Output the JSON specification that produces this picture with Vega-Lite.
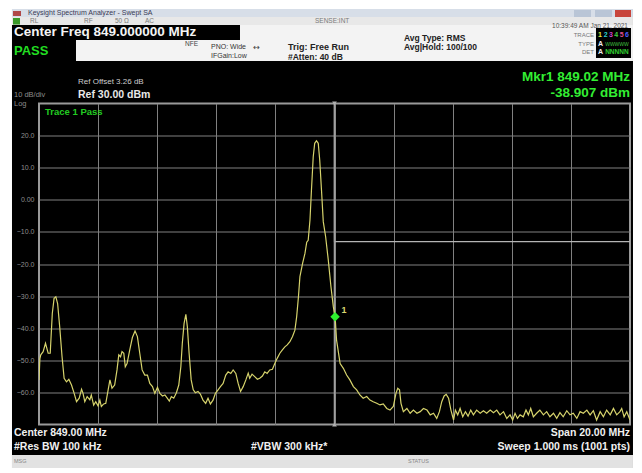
{
  "$schema": "https://vega.github.io/schema/vega-lite/v6.json",
  "width": 591,
  "height": 321,
  "autosize": {"type": "none"},
  "padding": {"left": 39, "top": 103.5, "right": 12, "bottom": 48.5},
  "background": "black",
  "config": {
    "view": {"fill": "black", "stroke": "#9a9a9a", "strokeWidth": 2},
    "font": "Liberation Sans",
    "text": {"font": "Liberation Sans"},
    "axis": {"labelOverlap": false}
  },
  "datasets": {
    "trace": [
      {"f": 839.0, "dB": -56.1}, {"f": 839.03, "dB": -49.5}, {"f": 839.06, "dB": -48.3}, {"f": 839.14, "dB": -47.3},
      {"f": 839.22, "dB": -44.7}, {"f": 839.31, "dB": -47.8}, {"f": 839.38, "dB": -47.8}, {"f": 839.45, "dB": -35.4},
      {"f": 839.51, "dB": -30.7}, {"f": 839.57, "dB": -30.2}, {"f": 839.63, "dB": -32.3}, {"f": 839.70, "dB": -39.5},
      {"f": 839.78, "dB": -48.9}, {"f": 839.85, "dB": -55.6}, {"f": 839.93, "dB": -56.7}, {"f": 840.01, "dB": -55.9},
      {"f": 840.10, "dB": -57.7}, {"f": 840.19, "dB": -60.3}, {"f": 840.27, "dB": -62.9}, {"f": 840.36, "dB": -61.8},
      {"f": 840.44, "dB": -59.0}, {"f": 840.49, "dB": -60.3}, {"f": 840.55, "dB": -62.9}, {"f": 840.63, "dB": -61.3},
      {"f": 840.72, "dB": -62.3}, {"f": 840.77, "dB": -60.8}, {"f": 840.85, "dB": -64.0}, {"f": 840.92, "dB": -62.9},
      {"f": 841.00, "dB": -64.2}, {"f": 841.06, "dB": -62.4}, {"f": 841.11, "dB": -64.4}, {"f": 841.19, "dB": -63.6},
      {"f": 841.26, "dB": -63.4}, {"f": 841.34, "dB": -59.2}, {"f": 841.40, "dB": -56.1}, {"f": 841.47, "dB": -58.7},
      {"f": 841.56, "dB": -57.7}, {"f": 841.64, "dB": -53.0}, {"f": 841.70, "dB": -48.3}, {"f": 841.76, "dB": -48.9},
      {"f": 841.81, "dB": -47.3}, {"f": 841.87, "dB": -47.8}, {"f": 841.92, "dB": -52.0}, {"f": 841.98, "dB": -51.0},
      {"f": 842.07, "dB": -46.8}, {"f": 842.16, "dB": -42.9}, {"f": 842.25, "dB": -40.9}, {"f": 842.33, "dB": -42.6},
      {"f": 842.41, "dB": -47.8}, {"f": 842.49, "dB": -53.0}, {"f": 842.58, "dB": -54.6}, {"f": 842.67, "dB": -54.6},
      {"f": 842.75, "dB": -57.2}, {"f": 842.84, "dB": -58.2}, {"f": 842.92, "dB": -60.3}, {"f": 843.01, "dB": -58.4},
      {"f": 843.09, "dB": -60.3}, {"f": 843.18, "dB": -61.1}, {"f": 843.26, "dB": -60.8}, {"f": 843.34, "dB": -61.8},
      {"f": 843.41, "dB": -62.7}, {"f": 843.48, "dB": -61.3}, {"f": 843.56, "dB": -61.8}, {"f": 843.65, "dB": -60.1},
      {"f": 843.73, "dB": -57.7}, {"f": 843.80, "dB": -52.0}, {"f": 843.85, "dB": -44.7}, {"f": 843.91, "dB": -38.5},
      {"f": 843.97, "dB": -35.7}, {"f": 844.02, "dB": -39.5}, {"f": 844.08, "dB": -47.8}, {"f": 844.15, "dB": -56.1},
      {"f": 844.22, "dB": -59.2}, {"f": 844.29, "dB": -60.1}, {"f": 844.38, "dB": -59.7}, {"f": 844.46, "dB": -60.5},
      {"f": 844.55, "dB": -62.4}, {"f": 844.64, "dB": -63.4}, {"f": 844.72, "dB": -61.8}, {"f": 844.80, "dB": -63.6},
      {"f": 844.89, "dB": -62.4}, {"f": 844.97, "dB": -60.3}, {"f": 845.06, "dB": -59.2}, {"f": 845.14, "dB": -58.2},
      {"f": 845.23, "dB": -57.2}, {"f": 845.32, "dB": -54.6}, {"f": 845.40, "dB": -53.6}, {"f": 845.49, "dB": -54.1},
      {"f": 845.57, "dB": -53.0}, {"f": 845.66, "dB": -54.1}, {"f": 845.74, "dB": -57.2}, {"f": 845.82, "dB": -59.7},
      {"f": 845.91, "dB": -58.2}, {"f": 846.00, "dB": -56.1}, {"f": 846.08, "dB": -54.0}, {"f": 846.13, "dB": -55.6},
      {"f": 846.21, "dB": -54.3}, {"f": 846.30, "dB": -55.1}, {"f": 846.39, "dB": -55.9}, {"f": 846.47, "dB": -55.6},
      {"f": 846.56, "dB": -54.9}, {"f": 846.64, "dB": -53.6}, {"f": 846.72, "dB": -54.1}, {"f": 846.81, "dB": -53.0},
      {"f": 846.90, "dB": -52.8}, {"f": 846.98, "dB": -51.0}, {"f": 847.06, "dB": -49.4}, {"f": 847.15, "dB": -47.8},
      {"f": 847.23, "dB": -46.8}, {"f": 847.32, "dB": -45.8}, {"f": 847.40, "dB": -45.2}, {"f": 847.49, "dB": -44.2},
      {"f": 847.58, "dB": -42.6}, {"f": 847.66, "dB": -40.6}, {"f": 847.72, "dB": -36.4}, {"f": 847.78, "dB": -30.2},
      {"f": 847.83, "dB": -23.9}, {"f": 847.92, "dB": -19.8}, {"f": 848.00, "dB": -16.7}, {"f": 848.06, "dB": -13.2},
      {"f": 848.11, "dB": -12.6}, {"f": 848.17, "dB": -6.3}, {"f": 848.22, "dB": 3.0}, {"f": 848.28, "dB": 13.4},
      {"f": 848.33, "dB": 17.6}, {"f": 848.39, "dB": 18.4}, {"f": 848.45, "dB": 17.6}, {"f": 848.50, "dB": 12.4},
      {"f": 848.56, "dB": 3.0}, {"f": 848.62, "dB": -6.8}, {"f": 848.70, "dB": -11.5}, {"f": 848.79, "dB": -18.8},
      {"f": 848.88, "dB": -27.1}, {"f": 848.96, "dB": -33.3}, {"f": 849.02, "dB": -36.4}, {"f": 849.07, "dB": -43.7},
      {"f": 849.19, "dB": -51.0}, {"f": 849.30, "dB": -52.5}, {"f": 849.41, "dB": -54.6}, {"f": 849.52, "dB": -56.1},
      {"f": 849.64, "dB": -58.2}, {"f": 849.75, "dB": -59.2}, {"f": 849.86, "dB": -60.8}, {"f": 849.97, "dB": -61.8},
      {"f": 850.09, "dB": -61.3}, {"f": 850.20, "dB": -62.4}, {"f": 850.31, "dB": -62.9}, {"f": 850.43, "dB": -63.4},
      {"f": 850.54, "dB": -63.9}, {"f": 850.65, "dB": -63.6}, {"f": 850.77, "dB": -65.0}, {"f": 850.88, "dB": -65.5},
      {"f": 850.99, "dB": -64.4}, {"f": 851.08, "dB": -60.3}, {"f": 851.14, "dB": -58.7}, {"f": 851.20, "dB": -59.2},
      {"f": 851.25, "dB": -63.4}, {"f": 851.33, "dB": -66.0}, {"f": 851.45, "dB": -65.0}, {"f": 851.56, "dB": -66.5},
      {"f": 851.67, "dB": -65.5}, {"f": 851.79, "dB": -66.5}, {"f": 851.90, "dB": -66.0}, {"f": 852.01, "dB": -65.0},
      {"f": 852.13, "dB": -65.5}, {"f": 852.24, "dB": -67.0}, {"f": 852.35, "dB": -66.5}, {"f": 852.46, "dB": -68.1},
      {"f": 852.55, "dB": -66.0}, {"f": 852.63, "dB": -62.9}, {"f": 852.71, "dB": -61.1}, {"f": 852.78, "dB": -60.6},
      {"f": 852.86, "dB": -61.8}, {"f": 852.94, "dB": -65.5}, {"f": 853.03, "dB": -68.6}, {"f": 853.09, "dB": -65.5},
      {"f": 853.17, "dB": -67.0}, {"f": 853.25, "dB": -65.0}, {"f": 853.34, "dB": -67.6}, {"f": 853.43, "dB": -66.0},
      {"f": 853.52, "dB": -67.4}, {"f": 853.61, "dB": -65.5}, {"f": 853.70, "dB": -67.0}, {"f": 853.81, "dB": -65.5},
      {"f": 853.93, "dB": -66.5}, {"f": 854.04, "dB": -65.7}, {"f": 854.15, "dB": -66.5}, {"f": 854.27, "dB": -65.5},
      {"f": 854.38, "dB": -66.3}, {"f": 854.49, "dB": -65.5}, {"f": 854.60, "dB": -67.0}, {"f": 854.72, "dB": -66.0},
      {"f": 854.83, "dB": -68.1}, {"f": 854.94, "dB": -67.0}, {"f": 855.03, "dB": -68.6}, {"f": 855.11, "dB": -66.5},
      {"f": 855.19, "dB": -68.1}, {"f": 855.28, "dB": -67.0}, {"f": 855.39, "dB": -67.6}, {"f": 855.48, "dB": -65.5},
      {"f": 855.56, "dB": -67.0}, {"f": 855.64, "dB": -65.0}, {"f": 855.73, "dB": -67.6}, {"f": 855.84, "dB": -66.5},
      {"f": 855.95, "dB": -65.5}, {"f": 856.07, "dB": -67.0}, {"f": 856.18, "dB": -66.0}, {"f": 856.29, "dB": -67.6},
      {"f": 856.41, "dB": -66.5}, {"f": 856.52, "dB": -68.1}, {"f": 856.63, "dB": -66.3}, {"f": 856.74, "dB": -67.6},
      {"f": 856.86, "dB": -65.7}, {"f": 856.97, "dB": -67.0}, {"f": 857.08, "dB": -66.5}, {"f": 857.20, "dB": -68.1},
      {"f": 857.31, "dB": -66.0}, {"f": 857.42, "dB": -66.5}, {"f": 857.54, "dB": -65.5}, {"f": 857.65, "dB": -67.0},
      {"f": 857.76, "dB": -65.7}, {"f": 857.87, "dB": -68.6}, {"f": 857.99, "dB": -66.0}, {"f": 858.10, "dB": -67.6},
      {"f": 858.21, "dB": -65.5}, {"f": 858.33, "dB": -67.0}, {"f": 858.44, "dB": -65.0}, {"f": 858.55, "dB": -67.0},
      {"f": 858.66, "dB": -66.0}, {"f": 858.72, "dB": -65.0}, {"f": 858.80, "dB": -67.6}, {"f": 858.89, "dB": -66.0},
      {"f": 859.0, "dB": -68.6}
    ],
    "marker": [{"f": 849.02, "dB": -36.4, "label": "1"}],
    "limit": [{"f": 849, "dB": 30}, {"f": 849, "dB": -13.05}, {"f": 859, "dB": -13.05}],
    "center": [{"f": 849, "dB": 30, "end": "top"}, {"f": 849, "dB": -70, "end": "bottom"}]
  },
  "data": {"values": [{}]},
  "layer": [
    {
      "data": {"name": "limit"},
      "mark": {"type": "line", "color": "#b4b4b4", "strokeWidth": 1.3},
      "encoding": {
        "x": {"field": "f", "type": "quantitative", "scale": {"domain": [839, 859], "nice": false, "zero": false},
              "axis": {"title": null, "values": [841, 843, 845, 847, 849, 851, 853, 855, 857], "labels": false, "ticks": false, "domain": false, "grid": true, "gridColor": "#808080", "gridWidth": 1}},
        "y": {"field": "dB", "type": "quantitative", "scale": {"domain": [-70, 30], "nice": false, "zero": false},
              "axis": {"title": null, "values": [-60, -50, -40, -30, -20, -10, 0, 10, 20], "ticks": false, "domain": false, "grid": true, "gridColor": "#808080", "gridWidth": 1,
                       "labelOverlap": false, "labelSeparation": 0,
                       "labelExpr": "datum.value == 0 ? '0.00' : format(datum.value, '.1f')",
                       "labelColor": "#8e8e8e", "labelFontSize": 7, "labelPadding": 5, "labelFont": "Liberation Sans"}}
      }
    },
    {"data": {"name": "center"}, "mark": {"type": "rule", "color": "#a0a0a0", "strokeWidth": 1.3}, "encoding": {"x": {"field": "f", "type": "quantitative"}}},
    {"data": {"name": "center"}, "mark": {"type": "point", "filled": true, "color": "#b0b0b0", "size": 22, "opacity": 1}, "encoding": {"x": {"field": "f", "type": "quantitative"}, "y": {"field": "dB", "type": "quantitative"}, "shape": {"field": "end", "type": "nominal", "scale": {"domain": ["top", "bottom"], "range": ["triangle-down", "triangle-up"]}, "legend": null}}},
    {"data": {"name": "trace"}, "mark": {"type": "line", "color": "#d6d36c", "strokeWidth": 1.2, "clip": true}, "encoding": {"x": {"field": "f", "type": "quantitative"}, "y": {"field": "dB", "type": "quantitative"}}},
    {"data": {"name": "marker"}, "mark": {"type": "point", "shape": "diamond", "filled": true, "color": "#2ef02e", "size": 90, "opacity": 1}, "encoding": {"x": {"field": "f", "type": "quantitative"}, "y": {"field": "dB", "type": "quantitative"}}},
    {"data": {"name": "marker"}, "mark": {"type": "text", "color": "#d8d870", "fontSize": 9, "fontWeight": "bold", "dx": 9, "dy": -7, "align": "center", "baseline": "middle"}, "encoding": {"x": {"field": "f", "type": "quantitative"}, "y": {"field": "dB", "type": "quantitative"}, "text": {"field": "label"}}},

    {"mark": {"type": "rect", "color": "white"}, "encoding": {"x": {"datum": 837.68}, "x2": {"datum": 859.406}, "y": {"datum": 62.24}, "y2": {"datum": 59.44}}},
    {"mark": {"type": "rect", "color": "white"}, "encoding": {"x": {"datum": 837.68}, "x2": {"datum": 838.086}, "y": {"datum": 62.24}, "y2": {"datum": -85.11}}},
    {"mark": {"type": "rect", "color": "white"}, "encoding": {"x": {"datum": 859.101}, "x2": {"datum": 859.406}, "y": {"datum": 62.24}, "y2": {"datum": -85.11}}},
    {"mark": {"type": "rect", "color": "white"}, "encoding": {"x": {"datum": 837.68}, "x2": {"datum": 859.406}, "y": {"datum": -83.55}, "y2": {"datum": -85.11}}},
    {"mark": {"type": "rect", "color": "#d7dee8"}, "encoding": {"x": {"datum": 838.086}, "x2": {"datum": 859.101}, "y": {"datum": 59.44}, "y2": {"datum": 56.95}}},
    {"mark": {"type": "rect", "color": "#e8e8e8"}, "encoding": {"x": {"datum": 838.086}, "x2": {"datum": 859.101}, "y": {"datum": 56.95}, "y2": {"datum": 54.45}}},
    {"mark": {"type": "rect", "color": "#f3f3f3"}, "encoding": {"x": {"datum": 838.086}, "x2": {"datum": 859.101}, "y": {"datum": 54.45}, "y2": {"datum": 43.24}}},
    {"mark": {"type": "rect", "color": "black"}, "encoding": {"x": {"datum": 838.086}, "x2": {"datum": 845.802}, "y": {"datum": 54.45}, "y2": {"datum": 49.78}}},
    {"mark": {"type": "rect", "color": "black"}, "encoding": {"x": {"datum": 838.086}, "x2": {"datum": 840.252}, "y": {"datum": 49.78}, "y2": {"datum": 43.24}}},
    {"mark": {"type": "rect", "color": "black"}, "encoding": {"x": {"datum": 857.849}, "x2": {"datum": 859.034}, "y": {"datum": 53.52}, "y2": {"datum": 44.17}}},
    {"mark": {"type": "rect", "color": "#e2e2e2"}, "encoding": {"x": {"datum": 838.086}, "x2": {"datum": 859.101}, "y": {"datum": -79.5}, "y2": {"datum": -83.55}}},
    {"mark": {"type": "rect", "color": "#b9c5d6"}, "encoding": {"x": {"datum": 857.105}, "x2": {"datum": 857.68}, "y": {"datum": 59.13}, "y2": {"datum": 56.95}}},
    {"mark": {"type": "rect", "color": "#b9c5d6"}, "encoding": {"x": {"datum": 857.815}, "x2": {"datum": 858.391}, "y": {"datum": 59.13}, "y2": {"datum": 56.95}}},
    {"mark": {"type": "rect", "color": "#c8463c"}, "encoding": {"x": {"datum": 858.492}, "x2": {"datum": 859.034}, "y": {"datum": 59.13}, "y2": {"datum": 56.95}}},
    {"mark": {"type": "rect", "color": "#b04848"}, "encoding": {"x": {"datum": 838.12}, "x2": {"datum": 838.391}, "y": {"datum": 58.82}, "y2": {"datum": 57.26}}},
    {"mark": {"type": "rect", "color": "#3a9a2a"}, "encoding": {"x": {"datum": 838.12}, "x2": {"datum": 838.357}, "y": {"datum": 56.64}, "y2": {"datum": 54.6}}},

    {"mark": {"type": "text", "text": "Keysight Spectrum Analyzer - Swept SA", "align": "left", "baseline": "middle", "fontSize": 7, "color": "#3a3a55"}, "encoding": {"x": {"datum": 838.628}, "y": {"datum": 58.19}}},
    {"mark": {"type": "text", "text": "RL", "align": "left", "baseline": "middle", "fontSize": 6.5, "color": "#7a7a7a"}, "encoding": {"x": {"datum": 838.695}, "y": {"datum": 55.7}}},
    {"mark": {"type": "text", "text": "RF", "align": "left", "baseline": "middle", "fontSize": 6.5, "color": "#7a7a7a"}, "encoding": {"x": {"datum": 840.523}, "y": {"datum": 55.7}}},
    {"mark": {"type": "text", "text": "50 Ω", "align": "left", "baseline": "middle", "fontSize": 6.5, "color": "#7a7a7a"}, "encoding": {"x": {"datum": 841.572}, "y": {"datum": 55.7}}},
    {"mark": {"type": "text", "text": "AC", "align": "left", "baseline": "middle", "fontSize": 6.5, "color": "#7a7a7a"}, "encoding": {"x": {"datum": 842.587}, "y": {"datum": 55.7}}},
    {"mark": {"type": "text", "text": "SENSE:INT", "align": "left", "baseline": "middle", "fontSize": 6.5, "color": "#7a7a7a"}, "encoding": {"x": {"datum": 848.34}, "y": {"datum": 55.7}}},
    {"mark": {"type": "text", "text": "10:39:49 AM Jan 21, 2021", "align": "right", "baseline": "middle", "fontSize": 6.5, "color": "#555555"}, "encoding": {"x": {"datum": 858.932}, "y": {"datum": 54.14}}},
    {"mark": {"type": "text", "text": "Center Freq 849.000000 MHz", "align": "left", "baseline": "middle", "fontSize": 13.5, "fontWeight": "bold", "color": "#f4f4f4"}, "encoding": {"x": {"datum": 838.154}, "y": {"datum": 52.27}}},
    {"mark": {"type": "text", "text": "PASS", "align": "left", "baseline": "middle", "fontSize": 13, "fontWeight": "bold", "color": "#22dd22"}, "encoding": {"x": {"datum": 838.154}, "y": {"datum": 46.36}}},
    {"mark": {"type": "text", "text": "NFE", "align": "left", "baseline": "middle", "fontSize": 6.5, "color": "#444444"}, "encoding": {"x": {"datum": 843.941}, "y": {"datum": 48.54}}},
    {"mark": {"type": "text", "text": "PNO: Wide", "align": "left", "baseline": "middle", "fontSize": 7, "color": "#333333"}, "encoding": {"x": {"datum": 844.821}, "y": {"datum": 47.6}}},
    {"mark": {"type": "text", "text": "IFGain:Low", "align": "left", "baseline": "middle", "fontSize": 7, "color": "#333333"}, "encoding": {"x": {"datum": 844.821}, "y": {"datum": 44.8}}},
    {"mark": {"type": "text", "text": "↔", "align": "left", "baseline": "middle", "fontSize": 8, "font": "DejaVu Sans", "color": "#444444"}, "encoding": {"x": {"datum": 846.25}, "y": {"datum": 47.3}}},
    {"mark": {"type": "text", "text": "Trig: Free Run", "align": "left", "baseline": "middle", "fontSize": 9, "fontWeight": "bold", "color": "#222222"}, "encoding": {"x": {"datum": 847.426}, "y": {"datum": 47.6}}},
    {"mark": {"type": "text", "text": "#Atten: 40 dB", "align": "left", "baseline": "middle", "fontSize": 8.5, "fontWeight": "bold", "color": "#222222"}, "encoding": {"x": {"datum": 847.426}, "y": {"datum": 44.49}}},
    {"mark": {"type": "text", "text": "Avg Type: RMS", "align": "left", "baseline": "middle", "fontSize": 8.5, "fontWeight": "bold", "color": "#222222"}, "encoding": {"x": {"datum": 851.352}, "y": {"datum": 50.4}}},
    {"mark": {"type": "text", "text": "Avg|Hold: 100/100", "align": "left", "baseline": "middle", "fontSize": 8.5, "fontWeight": "bold", "color": "#222222"}, "encoding": {"x": {"datum": 851.352}, "y": {"datum": 47.6}}},
    {"mark": {"type": "text", "text": "TRACE", "align": "right", "baseline": "middle", "fontSize": 6, "color": "#777777"}, "encoding": {"x": {"datum": 857.782}, "y": {"datum": 51.34}}},
    {"mark": {"type": "text", "text": "TYPE", "align": "right", "baseline": "middle", "fontSize": 6, "color": "#777777"}, "encoding": {"x": {"datum": 857.782}, "y": {"datum": 48.54}}},
    {"mark": {"type": "text", "text": "DET", "align": "right", "baseline": "middle", "fontSize": 6, "color": "#777777"}, "encoding": {"x": {"datum": 857.782}, "y": {"datum": 46.04}}},
    {"mark": {"type": "text", "text": "1", "align": "left", "baseline": "middle", "fontSize": 7, "fontWeight": "bold", "color": "#e8e83a"}, "encoding": {"x": {"datum": 857.92}, "y": {"datum": 51.34}}},
    {"mark": {"type": "text", "text": "2", "align": "left", "baseline": "middle", "fontSize": 7, "fontWeight": "bold", "color": "#2ad0d0"}, "encoding": {"x": {"datum": 858.11}, "y": {"datum": 51.34}}},
    {"mark": {"type": "text", "text": "3", "align": "left", "baseline": "middle", "fontSize": 7, "fontWeight": "bold", "color": "#d040d0"}, "encoding": {"x": {"datum": 858.29}, "y": {"datum": 51.34}}},
    {"mark": {"type": "text", "text": "4", "align": "left", "baseline": "middle", "fontSize": 7, "fontWeight": "bold", "color": "#40d040"}, "encoding": {"x": {"datum": 858.47}, "y": {"datum": 51.34}}},
    {"mark": {"type": "text", "text": "5", "align": "left", "baseline": "middle", "fontSize": 7, "fontWeight": "bold", "color": "#e05090"}, "encoding": {"x": {"datum": 858.65}, "y": {"datum": 51.34}}},
    {"mark": {"type": "text", "text": "6", "align": "left", "baseline": "middle", "fontSize": 7, "fontWeight": "bold", "color": "#5060ff"}, "encoding": {"x": {"datum": 858.83}, "y": {"datum": 51.34}}},
    {"mark": {"type": "text", "text": "A", "align": "left", "baseline": "middle", "fontSize": 7, "fontWeight": "bold", "color": "#eeeeee"}, "encoding": {"x": {"datum": 857.92}, "y": {"datum": 48.54}}},
    {"mark": {"type": "text", "text": "WWWWW", "align": "left", "baseline": "middle", "fontSize": 5, "color": "#40c040"}, "encoding": {"x": {"datum": 858.16}, "y": {"datum": 48.54}}},
    {"mark": {"type": "text", "text": "A", "align": "left", "baseline": "middle", "fontSize": 7, "fontWeight": "bold", "color": "#eeeeee"}, "encoding": {"x": {"datum": 857.92}, "y": {"datum": 46.04}}},
    {"mark": {"type": "text", "text": "NNNNN", "align": "left", "baseline": "middle", "fontSize": 6.5, "fontWeight": "bold", "color": "#30d030"}, "encoding": {"x": {"datum": 858.16}, "y": {"datum": 46.04}}},

    {"mark": {"type": "text", "text": "Ref Offset 3.26 dB", "align": "left", "baseline": "middle", "fontSize": 8, "color": "#cccccc"}, "encoding": {"x": {"datum": 840.32}, "y": {"datum": 36.6}}},
    {"mark": {"type": "text", "text": "Ref 30.00 dBm", "align": "left", "baseline": "middle", "fontSize": 10.5, "fontWeight": "bold", "color": "#e8e8e8"}, "encoding": {"x": {"datum": 840.32}, "y": {"datum": 32.8}}},
    {"mark": {"type": "text", "text": "10 dB/div", "align": "left", "baseline": "middle", "fontSize": 7.5, "color": "#8a8a8a"}, "encoding": {"x": {"datum": 838.154}, "y": {"datum": 32.6}}},
    {"mark": {"type": "text", "text": "Log", "align": "left", "baseline": "middle", "fontSize": 7.5, "color": "#8a8a8a"}, "encoding": {"x": {"datum": 838.154}, "y": {"datum": 30.0}}},
    {"mark": {"type": "text", "text": "Trace 1 Pass", "align": "left", "baseline": "middle", "fontSize": 9.5, "fontWeight": "bold", "color": "#22cc22"}, "encoding": {"x": {"datum": 839.203}, "y": {"datum": 27.35}}},
    {"mark": {"type": "text", "text": "Mkr1 849.02 MHz", "align": "right", "baseline": "middle", "fontSize": 13.5, "fontWeight": "bold", "color": "#33ee33"}, "encoding": {"x": {"datum": 859.0}, "y": {"datum": 38.26}}},
    {"mark": {"type": "text", "text": "-38.907 dBm", "align": "right", "baseline": "middle", "fontSize": 13.5, "fontWeight": "bold", "color": "#33ee33"}, "encoding": {"x": {"datum": 859.0}, "y": {"datum": 33.27}}},
    {"mark": {"type": "text", "text": "Center 849.00 MHz", "align": "left", "baseline": "middle", "fontSize": 10.5, "fontWeight": "bold", "color": "#f0f0f0"}, "encoding": {"x": {"datum": 838.154}, "y": {"datum": -72.65}}},
    {"mark": {"type": "text", "text": "#Res BW 100 kHz", "align": "left", "baseline": "middle", "fontSize": 10.5, "fontWeight": "bold", "color": "#f0f0f0"}, "encoding": {"x": {"datum": 838.154}, "y": {"datum": -77.01}}},
    {"mark": {"type": "text", "text": "#VBW 300 kHz*", "align": "left", "baseline": "middle", "fontSize": 10.5, "fontWeight": "bold", "color": "#f0f0f0"}, "encoding": {"x": {"datum": 846.174}, "y": {"datum": -77.01}}},
    {"mark": {"type": "text", "text": "Span 20.00 MHz", "align": "right", "baseline": "middle", "fontSize": 10.5, "fontWeight": "bold", "color": "#f0f0f0"}, "encoding": {"x": {"datum": 859.0}, "y": {"datum": -72.65}}},
    {"mark": {"type": "text", "text": "Sweep  1.000 ms (1001 pts)", "align": "right", "baseline": "middle", "fontSize": 10.5, "fontWeight": "bold", "color": "#f0f0f0"}, "encoding": {"x": {"datum": 859.0}, "y": {"datum": -77.01}}},
    {"mark": {"type": "text", "text": "MSG", "align": "left", "baseline": "middle", "fontSize": 5.5, "color": "#888888"}, "encoding": {"x": {"datum": 838.154}, "y": {"datum": -81.4}}},
    {"mark": {"type": "text", "text": "STATUS", "align": "left", "baseline": "middle", "fontSize": 5.5, "color": "#888888"}, "encoding": {"x": {"datum": 851.487}, "y": {"datum": -81.4}}}
  ]
}
